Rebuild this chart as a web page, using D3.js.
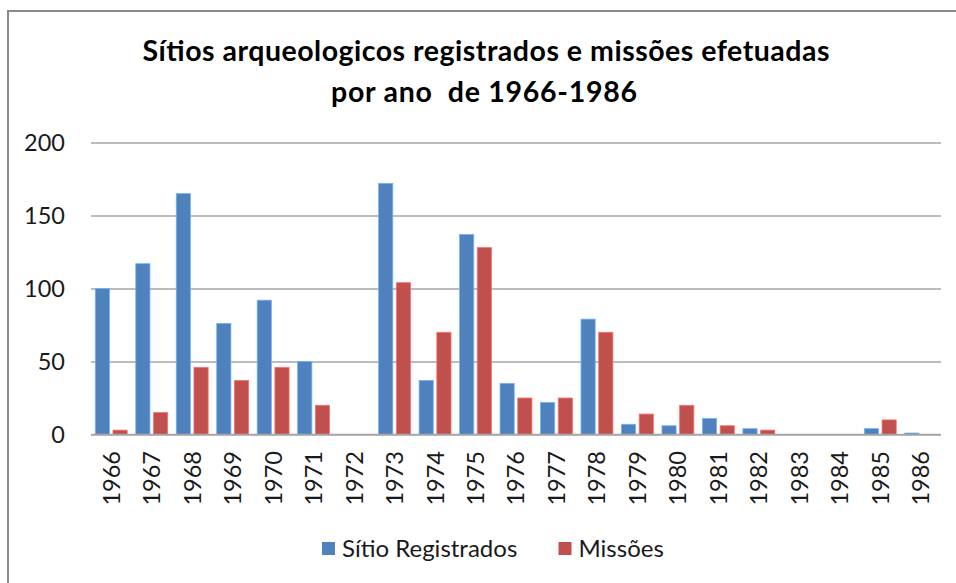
<!DOCTYPE html>
<html>
<head>
<meta charset="utf-8">
<script src="https://cdn.jsdelivr.net/npm/d3@7"></script>
<style>
  body { margin: 0; background: #fff; }
  svg { display: block; font-family: Lato, "Open Sans", sans-serif; }
</style>
</head>
<body>
<svg id="chart" width="956" height="583"></svg>
<script>
var anos = ["1966","1967","1968","1969","1970","1971","1972","1973","1974","1975","1976",
            "1977","1978","1979","1980","1981","1982","1983","1984","1985","1986"];
var sitios = [100,117,165,76,92,50,0,172,37,137,35,22,79,7,6,11,4,0,0,4,1];
var missoes = [3,15,46,37,46,20,0,104,70,128,25,25,70,14,20,6,3,0,0,10,0];
var series = ["Sítio Registrados","Missões"];
var cores = ["#4f81bd","#c0504d"];
var yTicks = [0,50,100,150,200];

var svg = d3.select("#chart");

// frame (only top and left edges show in the picture)
svg.append("path")
  .attr("d","M8,583 V11 H956")
  .attr("fill","none")
  .attr("stroke","#8a8a8a")
  .attr("stroke-width",2);

var pL = 91, pR = 941, pT = 142.5, pB = 434.5;

var x = d3.scaleBand().domain(anos).range([pL,pR]);
var xs = d3.scaleBand().domain(series).range([4.3, x.bandwidth()-4.3]).paddingInner(0.2);
var y = d3.scaleLinear().domain([0,200]).range([pB,pT]);

// title
var title = svg.append("text")
  .attr("text-anchor","middle")
  .attr("font-weight","bold")
  .attr("font-size",28.5)
  .attr("fill","#000");
title.append("tspan").attr("x",486).attr("y",61)
  .attr("textLength",687)
  .text("Sítios arqueologicos  registrados e missões efetuadas");
title.append("tspan").attr("x",484).attr("y",102)
  .attr("xml:space","preserve")
  .attr("textLength",306)
  .text("por ano  de 1966-1986");

// y axis with gridlines
var yAxis = svg.append("g")
  .attr("transform","translate(" + pL + ",0)")
  .call(d3.axisLeft(y).tickValues(yTicks).tickSize(-(pR-pL)).tickPadding(26));
yAxis.select(".domain").remove();
yAxis.selectAll(".tick line").attr("stroke","#a6a6a6").attr("stroke-width",1.4);
yAxis.selectAll(".tick text")
  .attr("font-family","Lato, sans-serif")
  .attr("font-size",23.5)
  .attr("fill","#1a1a1a");

// bars
var rows = anos.map(function(a,i){ return {ano:a, vals:[sitios[i], missoes[i]]}; });
var grupos = svg.append("g").selectAll("g").data(rows).enter().append("g")
  .attr("transform",function(d){ return "translate(" + x(d.ano) + ",0)"; });
grupos.selectAll("rect")
  .data(function(d){ return d.vals.map(function(v,k){ return {s:series[k], v:v, c:cores[k]}; }); })
  .enter().filter(function(d){ return d.v > 0; })
  .append("rect")
  .attr("x",function(d){ return xs(d.s); })
  .attr("width",xs.bandwidth())
  .attr("y",function(d){ return y(d.v); })
  .attr("height",function(d){ return pB - y(d.v); })
  .attr("fill",function(d){ return d.c; })
  .attr("stroke",function(d){ return d3.color(d.c).brighter(0.9); })
  .attr("stroke-width",0.8);

// base line on top of bars
svg.append("line")
  .attr("x1",pL).attr("x2",pR)
  .attr("y1",pB).attr("y2",pB)
  .attr("stroke","#a6a6a6").attr("stroke-width",1.4);

// x labels, rotated
var xAxis = svg.append("g")
  .attr("transform","translate(0," + pB + ")")
  .call(d3.axisBottom(x).tickSize(0).tickPadding(0));
xAxis.select(".domain").remove();
xAxis.selectAll(".tick text")
  .attr("font-family","Lato, sans-serif")
  .attr("font-size",23.5)
  .attr("fill","#1a1a1a")
  .attr("text-anchor","end")
  .attr("transform","rotate(-90)")
  .attr("x",-16.5)
  .attr("y",0)
  .attr("dy","0.36em");

// legend
var legX = [322, 558.5];
var leg = svg.append("g").selectAll("g").data(series).enter().append("g")
  .attr("transform",function(d,i){ return "translate(" + legX[i] + ",542)"; });
leg.append("rect")
  .attr("width",13).attr("height",13)
  .attr("fill",function(d,i){ return cores[i]; });
leg.append("text")
  .attr("x",20).attr("y",6.5)
  .attr("dy","0.36em")
  .attr("font-size",24)
  .attr("fill","#1a1a1a")
  .text(function(d){ return d; });
</script>
</body>
</html>
